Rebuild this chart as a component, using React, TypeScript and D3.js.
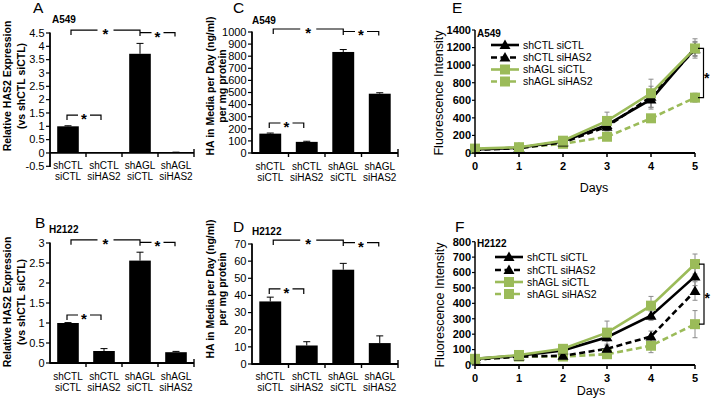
import React from 'react';
import * as d3 from 'd3';

const FONT = "'Liberation Sans', Arial, Helvetica, sans-serif";

// ---------- data ----------
const catLine1 = ['shCTL', 'shCTL', 'shAGL', 'shAGL'];
const catLine2 = ['siCTL', 'siHAS2', 'siCTL', 'siHAS2'];

const hasA549 = [1.0, 0.005, 3.72, 0.02];
const hasA549Err = [0.02, 0.0, 0.39, 0.01];
const hasH2122 = [1.0, 0.3, 2.56, 0.27];
const hasH2122Err = [0.01, 0.06, 0.21, 0.02];
const haA549 = [160, 92, 835, 490];
const haA549Err = [5, 5, 20, 8];
const haH2122 = [36.5, 10.8, 55, 12.2];
const haH2122Err = [2.5, 2.2, 3.7, 4.2];

const ticksHasA549 = [-0.5, 0, 0.5, 1, 1.5, 2, 2.5, 3, 3.5, 4, 4.5];
const ticksHasH2122 = [0, 0.5, 1, 1.5, 2, 2.5, 3];
const ticksHaA549 = [0, 100, 200, 300, 400, 500, 600, 700, 800, 900, 1000];
const ticksHaH2122 = [0, 10, 20, 30, 40, 50, 60, 70];

const days = [0, 1, 2, 3, 4, 5];
const seriesNames = ['shCTL siCTL', 'shCTL siHAS2', 'shAGL siCTL', 'shAGL siHAS2'];

const fluoA549 = [
  [40, 60, 130, 320, 610, 1190],
  [35, 55, 120, 300, 640, 1180],
  [50, 65, 140, 365, 680, 1190],
  [45, 60, 105, 185, 395, 630],
];
const fluoA549Err = [
  [10, 10, 15, 60, 110, 80],
  [10, 10, 15, 50, 120, 80],
  [10, 10, 15, 100, 160, 110],
  [10, 10, 10, 20, 30, 50],
];
const fluoH2122 = [
  [40, 60, 95, 180, 320, 575],
  [35, 55, 60, 105, 185, 480],
  [40, 65, 105, 210, 385, 655],
  [35, 55, 55, 70, 125, 265],
];
const fluoH2122Err = [
  [5, 5, 10, 25, 30, 60],
  [5, 5, 10, 20, 35, 60],
  [5, 5, 10, 75, 60, 65],
  [5, 5, 10, 15, 45, 88],
];
const ticksFluoA549 = [0, 200, 400, 600, 800, 1000, 1200, 1400];
const ticksFluoH2122 = [0, 100, 200, 300, 400, 500, 600, 700, 800];

// ---------- styles ----------
const GREEN = '#9BBB59';
const seriesStyle = [
  { color: '#000', dash: undefined as string | undefined, marker: 'tri' },
  { color: '#000', dash: '6,3.5', marker: 'tri' },
  { color: GREEN, dash: undefined as string | undefined, marker: 'sq' },
  { color: GREEN, dash: '6,3.5', marker: 'sq' },
];
const drawOrder = [3, 1, 0, 2];

function Star({ x, y, anchor = 'middle', size = 15 }: { x: number; y: number; anchor?: string; size?: number }) {
  return (
    <text x={x} y={y + size * 0.6} textAnchor={anchor as any} fontSize={size} fontWeight="bold">
      *
    </text>
  );
}

function Bracket({ xa, xb, y, dl, dr, gap }: { xa: number; xb: number; y: number; dl: number; dr: number; gap: number }) {
  const xm = (xa + xb) / 2;
  return (
    <g>
      <path
        d={`M${xa},${y + dl}V${y}H${xm - gap}M${xm + gap},${y}H${xb}V${y + dr}`}
        fill="none"
        stroke="#000"
        strokeWidth={1.2}
      />
      <Star x={xm} y={y} />
    </g>
  );
}

type BarProps = {
  letter: string; letterX: number; letterY: number;
  cell: string; cellX: number; cellY: number;
  x0: number; x1: number;
  yDomain: [number, number]; yRange: [number, number];
  ticks: number[];
  values: number[]; errs: number[];
  topB: number; lowB: number;
  ylab: string[]; ylabX: number[]; ylabY: number;
  catY: [number, number];
};

function BarPanel(p: BarProps) {
  const x = d3.scaleBand<number>().domain([0, 1, 2, 3]).range([p.x0, p.x1]).paddingInner(0.4).paddingOuter(0.2);
  const y = d3.scaleLinear().domain(p.yDomain).range(p.yRange);
  const step = x.step();
  const bw = x.bandwidth();
  const cx = (i: number) => (x(i) as number) + bw / 2;
  const y0 = y(0);
  const yTop = y(p.topB);
  const yLow = y(p.lowB);
  return (
    <g>
      <text x={p.letterX} y={p.letterY} fontSize={15.5}>{p.letter}</text>
      <text x={p.cellX} y={p.cellY} fontSize={10} fontWeight="bold">{p.cell}</text>
      {p.ylab.map((s, i) => (
        <text key={i} transform={`translate(${p.ylabX[i]},${p.ylabY}) rotate(-90)`} textAnchor="middle" fontSize={10.5} fontWeight="bold">
          {s}
        </text>
      ))}
      {/* bars */}
      {p.values.map((v, i) => (
        <rect key={i} x={x(i)} y={Math.min(y(v), y0)} width={bw} height={Math.abs(y0 - y(v))} fill="#000" />
      ))}
      {p.values.map((v, i) =>
        p.errs[i] > 0 ? (
          <path key={'e' + i} d={`M${cx(i)},${y(v)}V${y(v + p.errs[i])}M${cx(i) - 3.5},${y(v + p.errs[i])}H${cx(i) + 3.5}`} stroke="#000" strokeWidth={1} fill="none" />
        ) : null
      )}
      {/* y axis */}
      <line x1={p.x0} x2={p.x0} y1={y(p.yDomain[0]) + 0.8} y2={y(p.yDomain[1]) - 0.5} stroke="#000" strokeWidth={1.8} />
      {p.ticks.map((t) => (
        <g key={t}>
          <line x1={p.x0 - 4} x2={p.x0} y1={y(t)} y2={y(t)} stroke="#000" strokeWidth={1.2} />
          <text x={p.x0 - 5.5} y={y(t) + 3.8} textAnchor="end" fontSize={11}>{String(t)}</text>
        </g>
      ))}
      {/* x axis */}
      <line x1={p.x0} x2={p.x1} y1={y0} y2={y0} stroke="#000" strokeWidth={1.8} />
      {[1, 2, 3, 4].map((k) => (
        <line key={k} x1={p.x0 + k * step} x2={p.x0 + k * step} y1={y0 - (k === 4 ? 4 : 0)} y2={y0 + 4} stroke="#000" strokeWidth={1.4} />
      ))}
      {catLine1.map((s, i) => (
        <g key={'c' + i}>
          <text x={cx(i)} y={p.catY[0]} textAnchor="middle" fontSize={10}>{s}</text>
          <text x={cx(i)} y={p.catY[1]} textAnchor="middle" fontSize={10}>{catLine2[i]}</text>
        </g>
      ))}
      {/* significance brackets */}
      <Bracket xa={cx(0) + 3} xb={cx(2)} y={yTop} dl={5} dr={6} gap={8} />
      <Bracket xa={cx(2)} xb={cx(3) - 1} y={yTop + 2.5} dl={0} dr={4} gap={6} />
      <Bracket xa={cx(0) - 1} xb={cx(1) - 3} y={yLow} dl={5} dr={5} gap={6} />
    </g>
  );
}

type LineProps = {
  letter: string; letterX: number; letterY: number;
  cell: string; cellX: number; cellY: number;
  yDomain: [number, number]; yRange: [number, number];
  ticks: number[];
  series: number[][]; errs: number[][];
  legendY: number[]; legendX: [number, number, number];
  tickY: number; daysX: number; daysY: number;
  ylabX: number; ylabY: number;
  bx: [number, number]; starY: number;
};

function Marker({ kind, x, y, color }: { kind: string; x: number; y: number; color: string }) {
  if (kind === 'tri') {
    return <path d={`M${x},${y - 5.5}L${x + 5.5},${y + 4}L${x - 5.5},${y + 4}Z`} fill={color} />;
  }
  return <rect x={x - 5} y={y - 5} width={10} height={10} fill={color} />;
}

function LinePanel(p: LineProps) {
  const x = d3.scaleLinear().domain([0, 5]).range([475, 695]);
  const y = d3.scaleLinear().domain(p.yDomain).range(p.yRange);
  const line = d3
    .line<number>()
    .x((_, i) => x(days[i]))
    .y((d) => y(d));
  const y0 = y(0);
  const yB1 = y(p.series[2][5]);
  const yB2 = y(p.series[3][5]);
  return (
    <g>
      <text x={p.letterX} y={p.letterY} fontSize={15.5}>{p.letter}</text>
      <text transform={`translate(${p.ylabX},${p.ylabY}) rotate(-90)`} textAnchor="middle" fontSize={12.5}>
        Fluorescence Intensity
      </text>
      {/* error bars */}
      {drawOrder.map((si) =>
        p.series[si].map((v, i) => {
          const e = p.errs[si][i];
          const xx = x(days[i]);
          return (
            <path
              key={si + '-' + i}
              d={`M${xx},${y(v - e)}V${y(v + e)}M${xx - 2.5},${y(v - e)}H${xx + 2.5}M${xx - 2.5},${y(v + e)}H${xx + 2.5}`}
              stroke="#8a8a8a"
              strokeWidth={1}
              fill="none"
            />
          );
        })
      )}
      {/* lines */}
      {drawOrder.map((si) => (
        <path
          key={'l' + si}
          d={line(p.series[si]) || ''}
          fill="none"
          stroke={seriesStyle[si].color}
          strokeWidth={2.6}
          strokeDasharray={seriesStyle[si].dash}
        />
      ))}
      {drawOrder.map((si) =>
        p.series[si].map((v, i) => (
          <Marker key={'m' + si + '-' + i} kind={seriesStyle[si].marker} x={x(days[i])} y={y(v)} color={seriesStyle[si].color} />
        ))
      )}
      {/* axes */}
      <line x1={x(0)} x2={x(0)} y1={y0 + 0.8} y2={y(p.yDomain[1])} stroke="#000" strokeWidth={1.5} />
      {p.ticks.map((t) => (
        <g key={t}>
          <line x1={x(0) - 3} x2={x(0)} y1={y(t)} y2={y(t)} stroke="#000" strokeWidth={1.2} />
          <text x={x(0) - 4} y={y(t) + 3.8} textAnchor="end" fontSize={11} fontWeight="bold">{t}</text>
        </g>
      ))}
      <line x1={x(0)} x2={x(5)} y1={y0} y2={y0} stroke="#000" strokeWidth={2} />
      {days.map((d) => (
        <g key={'d' + d}>
          <line x1={x(d)} x2={x(d)} y1={y0} y2={y0 + 4} stroke="#000" strokeWidth={1.5} />
          <text x={x(d)} y={p.tickY} textAnchor="middle" fontSize={11} fontWeight="bold">{d}</text>
        </g>
      ))}
      <text x={p.daysX} y={p.daysY} textAnchor="middle" fontSize={12.5}>Days</text>
      <text x={p.cellX} y={p.cellY} fontSize={10} fontWeight="bold">{p.cell}</text>
      {/* legend */}
      {seriesNames.map((name, i) => {
        const ly = p.legendY[i];
        const [la, lb, tx] = p.legendX;
        return (
          <g key={'lg' + i}>
            <line x1={la} x2={lb} y1={ly} y2={ly} stroke={seriesStyle[i].color} strokeWidth={2.6} strokeDasharray={seriesStyle[i].dash} />
            <Marker kind={seriesStyle[i].marker} x={(la + lb) / 2} y={ly} color={seriesStyle[i].color} />
            <text x={tx} y={ly + 3.8} fontSize={10.5}>{name}</text>
          </g>
        );
      })}
      {/* significance bracket */}
      <path d={`M${p.bx[0]},${yB1}H${p.bx[1]}V${yB2}H${p.bx[0]}`} fill="none" stroke="#000" strokeWidth={1.2} />
      <Star x={p.bx[1] + 0.5} y={p.starY} anchor="start" size={14} />
    </g>
  );
}

export default function App() {
  return (
    <svg
      width={711}
      height={400}
      style={{ position: 'absolute', left: 0, top: 0, background: '#fff' }}
      fontFamily={FONT}
    >
      <rect width={711} height={400} fill="#fff" />
      <BarPanel
        letter="A" letterX={33} letterY={13}
        cell="A549" cellX={52} cellY={23}
        x0={50} x1={194}
        yDomain={[-0.5, 4.5]} yRange={[166.3, 33]}
        ticks={ticksHasA549}
        values={hasA549} errs={hasA549Err}
        topB={4.61} lowB={1.42}
        ylab={['Relative HAS2 Expression', '(vs shCTL siCTL)']} ylabX={[11, 24.5]} ylabY={86}
        catY={[169, 180]}
      />
      <BarPanel
        letter="B" letterX={35} letterY={228}
        cell="H2122" cellX={49} cellY={233}
        x0={50} x1={194}
        yDomain={[0, 3]} yRange={[363, 243]}
        ticks={ticksHasH2122}
        values={hasH2122} errs={hasH2122Err}
        topB={3.08} lowB={1.2}
        ylab={['Relative HAS2 Expression', '(vs shCTL siCTL)']} ylabX={[11, 24.5]} ylabY={302}
        catY={[380, 391]}
      />
      <BarPanel
        letter="C" letterX={233} letterY={13}
        cell="A549" cellX={252} cellY={24}
        x0={252} x1={398}
        yDomain={[0, 1000]} yRange={[153, 32]}
        ticks={ticksHaA549}
        values={haA549} errs={haA549Err}
        topB={1025} lowB={248}
        ylab={['HA in Media per Day (ng/ml)', 'per mg protein']} ylabX={[214, 225.5]} ylabY={86}
        catY={[170, 181]}
      />
      <BarPanel
        letter="D" letterX={233} letterY={232}
        cell="H2122" cellX={252} cellY={235}
        x0={252} x1={398}
        yDomain={[0, 70]} yRange={[364, 244]}
        ticks={ticksHaH2122}
        values={haH2122} errs={haH2122Err}
        topB={72.3} lowB={43.8}
        ylab={['HA in Media per Day (ng/ml)', 'per mg protein']} ylabX={[214, 225.5]} ylabY={289}
        catY={[380, 391]}
      />
      <LinePanel
        letter="E" letterX={452} letterY={13}
        cell="A549" cellX={477} cellY={37}
        yDomain={[0, 1400]} yRange={[153, 30]}
        ticks={ticksFluoA549}
        series={fluoA549} errs={fluoA549Err}
        legendY={[45, 57.5, 69.5, 81.5]} legendX={[491, 519, 523]}
        tickY={170} daysX={594} daysY={192}
        ylabX={443} ylabY={93}
        bx={[698, 703.5]} starY={75}
      />
      <LinePanel
        letter="F" letterX={455} letterY={232}
        cell="H2122" cellX={477} cellY={247}
        yDomain={[0, 800]} yRange={[365, 241.7]}
        ticks={ticksFluoH2122}
        series={fluoH2122} errs={fluoH2122Err}
        legendY={[257, 270, 282, 294]} legendX={[495, 523, 527]}
        tickY={382} daysX={591} daysY={395}
        ylabX={444} ylabY={305}
        bx={[699, 704]} starY={295}
      />
    </svg>
  );
}
